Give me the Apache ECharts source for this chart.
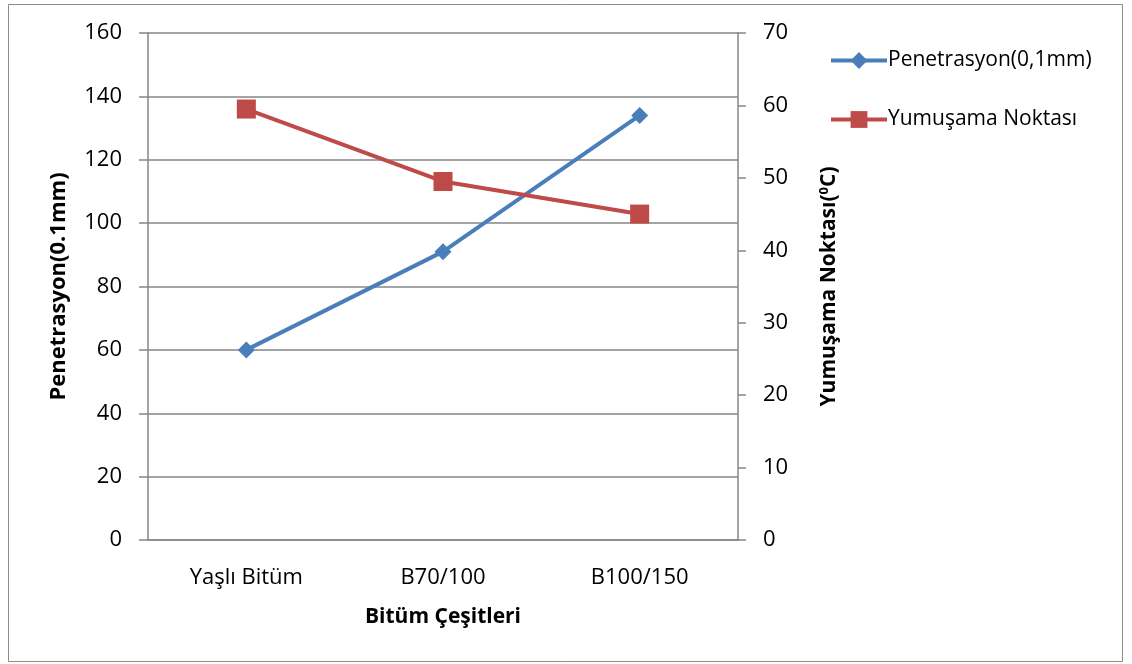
<!DOCTYPE html>
<html>
<head>
<meta charset="utf-8">
<style>
  html, body { margin: 0; padding: 0; background: #fff; }
  #chart { width: 1132px; height: 664px; }
</style>
<script src="https://cdn.jsdelivr.net/npm/echarts@6/dist/echarts.min.js"></script>
</head>
<body>
<div id="chart"></div>
<script>
// Bitumen types and measured properties
const categories = ['Yaşlı Bitüm', 'B70/100', 'B100/150'];
const penetration = [60, 91, 134];      // Penetrasyon (0,1 mm)
const softeningPoint = [59.5, 49.5, 45]; // Yumuşama Noktası (°C)

const FONT = '"Open Sans", "Noto Sans", sans-serif';
const GRID = '#868686';
const FS = 22;

const chart = echarts.init(document.getElementById('chart'));
chart.setOption({
  animation: false,
  backgroundColor: '#fff',
  textStyle: { fontFamily: FONT },
  graphic: [{
    type: 'rect',
    shape: { x: 8.5, y: 4.5, width: 1114, height: 657 },
    style: { fill: 'none', stroke: '#8c8c8c', lineWidth: 1 },
    silent: true
  }],
  grid: { left: 148, right: 394, top: 33, bottom: 124, containLabel: false },
  legend: {
    orient: 'vertical',
    left: 824,
    top: 45,
    itemWidth: 56,
    itemHeight: 21,
    itemGap: 38,
    lineStyle: { width: 4 },
    textStyle: { fontFamily: FONT, fontSize: 21, color: '#000', padding: [0, 0, 0, -4] },
    data: ['Penetrasyon(0,1mm)', 'Yumuşama Noktası']
  },
  xAxis: {
    type: 'category',
    data: categories,
    boundaryGap: true,
    axisLine: { lineStyle: { color: GRID, width: 1.5 } },
    axisTick: { show: false },
    axisLabel: { fontFamily: FONT, fontSize: FS, color: '#000', margin: 27 },
    name: 'Bitüm Çeşitleri',
    nameLocation: 'middle',
    nameGap: 67,
    nameTextStyle: { fontFamily: FONT, fontSize: 21, fontWeight: 'bold', color: '#000' }
  },
  yAxis: [{
    type: 'value',
    min: 0, max: 160, interval: 20,
    position: 'left',
    axisLine: { show: true, lineStyle: { color: GRID, width: 1.5 } },
    axisTick: { show: true, length: 9, lineStyle: { color: GRID, width: 1.5 } },
    splitLine: { show: true, lineStyle: { color: GRID, width: 1.5 } },
    axisLabel: { fontFamily: FONT, fontSize: FS, color: '#000', margin: 26 },
    name: 'Penetrasyon(0.1mm)',
    nameLocation: 'middle',
    nameGap: 78,
    nameRotate: 90,
    nameTextStyle: { fontFamily: FONT, fontSize: 22, fontWeight: 'bold', color: '#000' }
  }, {
    type: 'value',
    min: 0, max: 70, interval: 10,
    position: 'right',
    axisLine: { show: true, lineStyle: { color: GRID, width: 1.5 } },
    axisTick: { show: true, length: 8, lineStyle: { color: GRID, width: 1.5 } },
    splitLine: { show: false },
    axisLabel: { fontFamily: FONT, fontSize: FS, color: '#000', margin: 25 },
    name: '{a|Yumuşama Noktası(}{s|0}{a|C)}',
    nameLocation: 'middle',
    nameGap: 80,
    nameRotate: 90,
    nameTextStyle: {
      rich: {
        a: { fontFamily: FONT, fontSize: 21, fontWeight: 'bold', color: '#000' },
        s: { fontFamily: FONT, fontSize: 13, fontWeight: 'bold', color: '#000', verticalAlign: 'top', padding: [0, 0, 9, 0] }
      }
    }
  }],
  series: [{
    name: 'Penetrasyon(0,1mm)',
    type: 'line',
    yAxisIndex: 0,
    data: penetration,
    symbol: 'diamond',
    symbolSize: 17,
    lineStyle: { color: '#4A7EBB', width: 4 },
    itemStyle: { color: '#4A7EBB' }
  }, {
    name: 'Yumuşama Noktası',
    type: 'line',
    yAxisIndex: 1,
    data: softeningPoint,
    symbol: 'rect',
    symbolSize: 19,
    lineStyle: { color: '#BE4B48', width: 4 },
    itemStyle: { color: '#BE4B48' }
  }]
});
</script>
</body>
</html>
